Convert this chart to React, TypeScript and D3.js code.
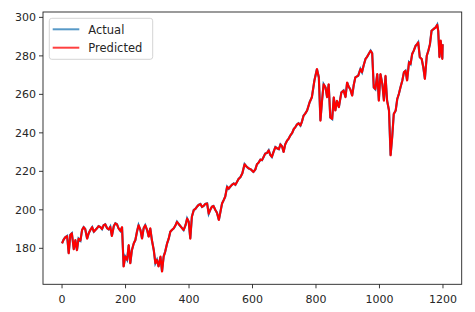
import React from "react";
import * as d3 from "d3";

const days: number[] = [0,5,10,16,21,26,31,37,42,47,52,58,63,68,73,79,84,89,95,100,105,110,115,121,126,131,136,142,147,152,157,163,168,173,178,184,189,194,199,205,210,215,220,226,231,236,241,247,252,257,262,268,273,278,283,289,294,299,304,310,315,320,325,331,336,341,346,352,357,362,368,373,378,383,389,394,399,404,409,415,420,425,430,436,441,446,451,457,462,467,472,477,483,488,494,499,504,509,514,520,525,530,535,541,546,551,556,562,568,575,581,588,595,603,609,614,619,625,630,635,640,646,651,656,661,666,672,677,683,688,693,698,703,709,714,719,725,730,735,740,745,751,756,761,766,772,780,787,795,803,809,814,819,824,830,835,840,845,851,856,861,866,872,880,887,893,898,903,908,914,919,924,933,940,945,950,956,961,966,972,977,982,987,993,998,1003,1009,1014,1019,1024,1030,1035,1040,1045,1051,1056,1061,1066,1072,1077,1082,1087,1093,1098,1103,1108,1114,1118,1122,1127,1133,1138,1143,1149,1154,1159,1164,1170,1177,1182,1185,1189,1193,1198,1199];

const actual: number[] = [182.6,184.5,185.7,186.4,177.4,187,187.8,179.5,184.3,179,185,184,189.5,191,190,185,187.8,189.5,191,188.6,189.5,190.4,191.5,191,190,192,192.5,190.4,189.8,191.2,186.4,191.5,193,192.5,190.4,189,191,170.5,175.7,174,181.7,172.2,179,182.6,184.3,188.6,192,189.5,185,190.4,192,189.5,186,190.4,184.3,179,172.2,174,170.5,175.7,167.9,175.7,178.3,182.6,185,188.6,189.5,190.4,191.8,193.8,192.5,191.5,190.5,189.5,192,195.5,193.8,185,196.4,199.9,200.5,201.6,202.5,203,201.5,202,203,203.3,198,200,201.6,202,199.9,198.5,194.7,199,203.3,205,206.8,212,211,212,213,213.7,213,214.5,216,217,219,223.7,222.5,221.5,221,219.7,221,223.7,224.5,226.1,225.8,227.5,229.2,229.6,230.9,228.5,227.5,230,232.6,232,231.5,234,233,230,234,236,237,238.6,240,242,243,244.3,245,243.8,246,249,250,251.6,255.9,258.5,267.2,273.2,268.8,246.3,256.7,265.3,263.6,258.5,265.3,248,247.2,258.5,251.6,256.7,253.3,261,262,258.5,266.2,264,262.7,259.3,265,268.8,269.7,273.2,271.5,275,278.4,279.5,281,282.7,281.4,263.6,262.7,270.6,256.7,270.6,265.3,256.7,269.7,256.7,251.6,228.3,237.8,249.8,251.6,257.6,260.2,263.6,267.2,271.5,272.3,267.2,276.7,275.8,281,282.7,285.3,286,287,279.3,278.4,274.1,268,280.1,282.7,286.1,293,293.9,294.8,296.2,293,279.3,288,278.4,286];

const predicted: number[] = actual;

const xTicks: number[] = [0, 200, 400, 600, 800, 1000, 1200];
const yTicks: number[] = [180, 200, 220, 240, 260, 280, 300];
const seriesNames: string[] = ["Actual", "Predicted"];
const seriesColors: string[] = ["#1f77b4", "#ff0000"];

export default function App() {
  const W = 475, H = 312;
  const left = 43, right = 461.7, top = 12, bottom = 284.3;
  const x = d3.scaleLinear().domain([-60, 1259]).range([left, right]);
  const y = d3.scaleLinear().domain([161.3, 302.8]).range([bottom, top]);
  const line = d3.line<number>().x((_, i) => x(days[i])).y((d) => y(d));
  const font = "'DejaVu Sans', sans-serif";
  return (
    <div style={{ position: "fixed", left: 0, top: 0 }}>
      <svg width={W} height={H} style={{ display: "block", background: "#fff" }}>
        <path d={line(actual) || ""} fill="none" stroke={seriesColors[0]} strokeWidth={2.2} />
        <path d={line(predicted) || ""} fill="none" stroke={seriesColors[1]} strokeWidth={2} strokeLinejoin="round" />
        <rect x={left} y={top} width={right - left} height={bottom - top} fill="none" stroke="#222" strokeWidth={0.9} />
        {xTicks.map((t) => (
          <g key={"x" + t}>
            <line x1={x(t)} x2={x(t)} y1={bottom} y2={bottom + 4} stroke="#222" strokeWidth={0.9} />
            <text x={x(t)} y={bottom + 19} textAnchor="middle" fontSize={11} fontFamily={font} fill="#262626">{t}</text>
          </g>
        ))}
        {yTicks.map((t) => (
          <g key={"y" + t}>
            <line x1={left - 4} x2={left} y1={y(t)} y2={y(t)} stroke="#222" strokeWidth={0.9} />
            <text x={left - 7} y={y(t) + 4} textAnchor="end" fontSize={11} fontFamily={font} fill="#262626">{t}</text>
          </g>
        ))}
        <rect x={49.3} y={18.3} width={103.4} height={41} rx={2.5} fill="#fff" fillOpacity={0.8} stroke="#d0d0d0" strokeWidth={0.9} />
        {seriesNames.map((n, i) => (
          <g key={n}>
            <line x1={52.7} x2={79.3} y1={29.3 + i * 18.4} y2={29.3 + i * 18.4} stroke={seriesColors[i]} strokeOpacity={0.75} strokeWidth={2} />
            <text x={88.3} y={33.5 + i * 18.4} fontSize={11.5} fontFamily={font} fill="#262626">{n}</text>
          </g>
        ))}
      </svg>
    </div>
  );
}
